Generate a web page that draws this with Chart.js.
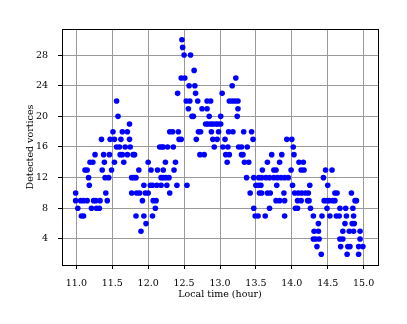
<!DOCTYPE html>
<html>
<head>
<meta charset="utf-8">
<script src="https://cdn.jsdelivr.net/npm/chart.js@4.4.0/dist/chart.umd.min.js"></script>
<style>
  html, body { margin: 0; padding: 0; background: #fff; }
  canvas { display: block; }
</style>
</head>
<body>
<canvas id="chart" width="407" height="324"></canvas>
<script>
// local time of each detection frame (hour), one line per vortex count
const hours = [
  12.47,
  12.48,
  12.50, 12.59,
  12.64,
  12.46, 12.51, 13.22,
  12.57, 12.65, 13.17,
  12.41, 12.66, 13.03,
  11.56, 12.53, 12.58, 12.69, 12.82, 12.87, 13.13, 13.17, 13.21, 13.25,
  12.56, 12.75, 12.82, 13.25,
  11.58, 12.61, 12.63, 12.85, 13.01, 13.24,
  11.74, 12.80, 12.83, 12.87, 12.90, 12.94, 12.97, 13.01,
  11.51, 11.64, 11.71, 12.30, 12.34, 12.42, 12.70, 12.73, 12.88, 12.98, 13.12, 13.18, 13.33, 13.44,
  11.35, 11.47, 11.53, 11.62, 11.74, 12.43, 12.46, 12.67, 12.90, 12.96, 13.07, 13.46, 13.93, 14.00,
  11.56, 11.60, 11.68, 11.75, 12.16, 12.19, 12.21, 12.27, 12.35, 12.92, 13.04, 13.11, 13.26, 13.30, 13.38, 14.02,
  11.26, 11.38, 11.46, 11.61, 11.64, 11.71, 11.79, 11.81, 12.72, 12.78, 13.08, 13.13, 13.30, 13.32, 13.72, 13.86, 14.03,
  11.19, 11.23, 11.39, 11.53, 11.66, 12.00, 12.24, 12.38, 13.10, 13.34, 13.40, 13.66, 13.83, 14.10, 14.16,
  11.12, 11.15, 11.36, 11.49, 11.87, 12.04, 12.13, 12.21, 12.36, 13.59, 13.75, 13.78, 13.99, 14.13, 14.17, 14.47, 14.56,
  11.17, 11.40, 11.45, 11.77, 11.80, 11.83, 12.18, 12.21, 12.25, 12.29, 13.37, 13.47, 13.54, 13.58, 13.64, 13.69, 13.75, 13.80, 13.85, 13.90, 13.95, 14.44,
  11.18, 11.94, 12.03, 12.06, 12.12, 12.18, 12.26, 12.40, 12.54, 13.50, 13.54, 13.57, 13.79, 14.01, 14.25, 14.50,
  10.99, 11.41, 11.77, 11.84, 11.88, 11.96, 12.00, 12.30, 13.42, 13.55, 13.58, 13.66, 13.70, 13.89, 14.04, 14.09, 14.14, 14.19, 14.23, 14.60, 14.63, 14.83,
  10.99, 11.06, 11.10, 11.15, 11.24, 11.27, 11.33, 11.43, 11.92, 12.07, 12.11, 13.78, 13.83, 13.90, 14.08, 14.13, 14.22, 14.24, 14.45, 14.49, 14.52, 14.57, 14.60, 14.88, 14.90,
  11.02, 11.21, 11.28, 11.32, 12.10, 13.47, 13.69, 14.05, 14.08, 14.26, 14.49, 14.67, 14.75, 14.85,
  11.07, 11.10, 11.83, 11.94, 12.06, 13.49, 13.53, 13.63, 13.90, 14.30, 14.42, 14.53, 14.62, 14.66, 14.76, 14.86,
  11.97, 14.37, 14.74, 14.84, 14.87,
  11.90, 14.31, 14.37, 14.71, 14.80, 14.86, 14.95,
  14.30, 14.33, 14.38, 14.67, 14.71, 14.95,
  14.35, 14.68, 14.78, 14.81, 14.93, 14.99,
  14.41, 14.77, 14.93
];

const vortices = [
  30,
  29,
  28, 28,
  26,
  25, 25, 25,
  24, 24, 24,
  23, 23, 23,
  22, 22, 22, 22, 22, 22, 22, 22, 22, 22,
  21, 21, 21, 21,
  20, 20, 20, 20, 20, 20,
  19, 19, 19, 19, 19, 19, 19, 19,
  18, 18, 18, 18, 18, 18, 18, 18, 18, 18, 18, 18, 18, 18,
  17, 17, 17, 17, 17, 17, 17, 17, 17, 17, 17, 17, 17, 17,
  16, 16, 16, 16, 16, 16, 16, 16, 16, 16, 16, 16, 16, 16, 16, 16,
  15, 15, 15, 15, 15, 15, 15, 15, 15, 15, 15, 15, 15, 15, 15, 15, 15,
  14, 14, 14, 14, 14, 14, 14, 14, 14, 14, 14, 14, 14, 14, 14,
  13, 13, 13, 13, 13, 13, 13, 13, 13, 13, 13, 13, 13, 13, 13, 13, 13,
  12, 12, 12, 12, 12, 12, 12, 12, 12, 12, 12, 12, 12, 12, 12, 12, 12, 12, 12, 12, 12, 12,
  11, 11, 11, 11, 11, 11, 11, 11, 11, 11, 11, 11, 11, 11, 11, 11,
  10, 10, 10, 10, 10, 10, 10, 10, 10, 10, 10, 10, 10, 10, 10, 10, 10, 10, 10, 10, 10, 10,
  9, 9, 9, 9, 9, 9, 9, 9, 9, 9, 9, 9, 9, 9, 9, 9, 9, 9, 9, 9, 9, 9, 9, 9, 9,
  8, 8, 8, 8, 8, 8, 8, 8, 8, 8, 8, 8, 8, 8,
  7, 7, 7, 7, 7, 7, 7, 7, 7, 7, 7, 7, 7, 7, 7, 7,
  6, 6, 6, 6, 6,
  5, 5, 5, 5, 5, 5, 5,
  4, 4, 4, 4, 4, 4,
  3, 3, 3, 3, 3, 3,
  2, 2, 2
];

const xTicks = [11.0, 11.5, 12.0, 12.5, 13.0, 13.5, 14.0, 14.5, 15.0];
const yTicks = [4, 8, 12, 16, 20, 24, 28];

const font = { family: 'DejaVu Serif', size: 9.5 };

// box around the plot area (matplotlib spines)
const frame = {
  id: 'frame',
  afterDatasetsDraw(chart) {
    const { ctx, chartArea: a } = chart;
    ctx.save();
    ctx.strokeStyle = '#000';
    ctx.lineWidth = 1;
    ctx.strokeRect(a.left + 0.5, a.top + 0.5, a.right - a.left, a.bottom - a.top);
    ctx.restore();
  }
};

new Chart(document.getElementById('chart'), {
  type: 'scatter',
  data: {
    datasets: [{
      data: hours.map((h, i) => ({ x: h, y: vortices[i] })),
      backgroundColor: '#0000ff',
      borderWidth: 0,
      pointRadius: 2.8,
      pointHoverRadius: 2.8
    }]
  },
  options: {
    responsive: false,
    animation: false,
    devicePixelRatio: 1,
    layout: { padding: { left: 21, right: 29, top: 29, bottom: 20 } },
    plugins: { legend: { display: false }, tooltip: { enabled: false } },
    scales: {
      x: {
        type: 'linear',
        min: 10.8,
        max: 15.2,
        afterBuildTicks: s => { s.ticks = xTicks.map(v => ({ value: v })); },
        afterFit: s => { s.height = 39; },
        ticks: { font, color: '#000', padding: 9, maxRotation: 0, autoSkip: false,
                 callback: v => v.toFixed(1) },
        grid: { color: '#999', lineWidth: 1, tickColor: '#000', tickLength: 4 },
        border: { display: false },
        title: { display: true, text: 'Local time (hour)', font, color: '#000',
                 padding: { top: 4, bottom: 4 } }
      },
      y: {
        type: 'linear',
        min: 0.6,
        max: 31.4,
        afterBuildTicks: s => { s.ticks = yTicks.map(v => ({ value: v })); },
        afterFit: s => { s.width = 41; },
        ticks: { font, color: '#000', padding: 10, autoSkip: false,
                 callback: v => String(v) },
        grid: { color: '#999', lineWidth: 1, tickColor: '#000', tickLength: 4 },
        border: { display: false },
        title: { display: true, text: 'Detected vortices', font, color: '#000',
                 padding: { top: 4, bottom: 4 } }
      }
    }
  },
  plugins: [frame]
});
</script>
</body>
</html>
